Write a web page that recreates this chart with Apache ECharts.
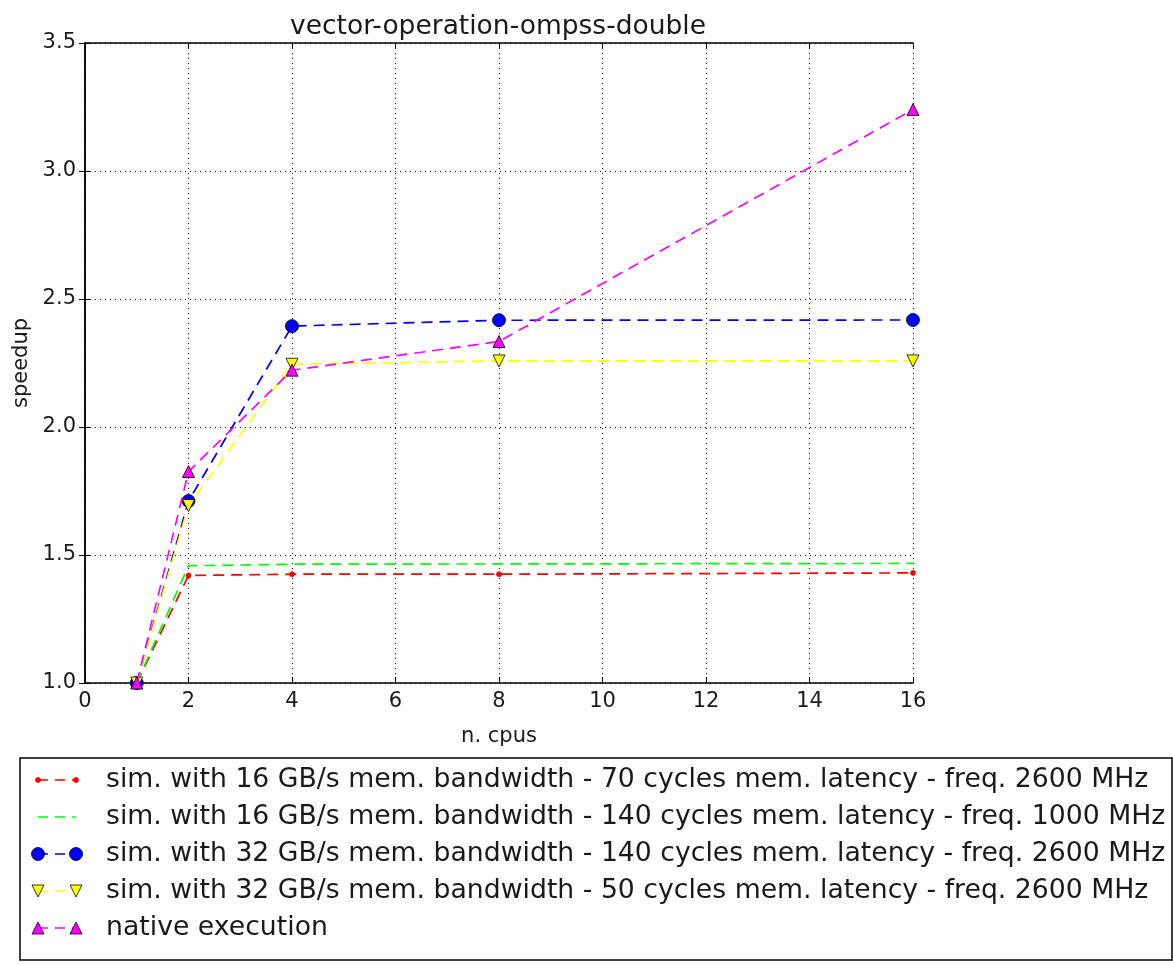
<!DOCTYPE html>
<html>
<head>
<meta charset="utf-8">
<script src="https://cdn.jsdelivr.net/npm/echarts@6/dist/echarts.min.js"></script>
<style>
  html, body { margin: 0; padding: 0; background: #fff; }
  #chart { width: 1173px; height: 965px; }
</style>
</head>
<body>
<div id="chart"></div>
<script>
// Speedup measurements per number of CPUs
const cpus = [1, 2, 4, 8, 16];
const seriesNames = [
  'sim. with 16 GB/s mem. bandwidth - 70 cycles mem. latency - freq. 2600 MHz',
  'sim. with 16 GB/s mem. bandwidth - 140 cycles mem. latency - freq. 1000 MHz',
  'sim. with 32 GB/s mem. bandwidth - 140 cycles mem. latency - freq. 2600 MHz',
  'sim. with 32 GB/s mem. bandwidth - 50 cycles mem. latency - freq. 2600 MHz',
  'native execution'
];
const sim16bw70lat = [1.0, 1.42, 1.425, 1.425, 1.43];
const sim16bw140lat = [1.0, 1.458, 1.464, 1.465, 1.467];
const sim32bw140lat = [1.0, 1.711, 2.394, 2.417, 2.418];
const sim32bw50lat = [1.0, 1.693, 2.245, 2.258, 2.258];
const nativeExec = [1.0, 1.826, 2.222, 2.334, 3.24];
const xTicks = [0, 2, 4, 6, 8, 10, 12, 14, 16];
const yTicks = [1.0, 1.5, 2.0, 2.5, 3.0, 3.5];

const FONT = 'DejaVu Sans';
const styles = [
  { color: '#ff0000', symbol: 'circle', size: 5, rotate: 0, border: '#ff0000' },
  { color: '#00ff00', symbol: 'none', size: 0, rotate: 0, border: '#00ff00' },
  { color: '#0000ff', symbol: 'circle', size: 13, rotate: 0, border: '#000' },
  { color: '#ffff00', symbol: 'triangle', size: 12, rotate: 180, border: '#000' },
  { color: '#ff00ff', symbol: 'triangle', size: 12, rotate: 0, border: '#000' }
];
const values = [sim16bw70lat, sim16bw140lat, sim32bw140lat, sim32bw50lat, nativeExec];

const series = values.map((vals, i) => ({
  name: seriesNames[i],
  type: 'line',
  data: cpus.map((c, k) => [c, vals[k]]),
  symbol: styles[i].symbol,
  symbolSize: styles[i].size,
  symbolRotate: styles[i].rotate,
  showSymbol: styles[i].symbol !== 'none',
  clip: false,
  lineStyle: { color: styles[i].color, width: 1.7, type: [11, 7] },
  itemStyle: { color: styles[i].color, borderColor: styles[i].border, borderWidth: 0.8 },
  z: 3 + i,
  animation: false
}));

// Legend drawn as a framed box with two markers joined by a dashed line per entry
const legendGraphics = [{
  type: 'rect',
  shape: { x: 20, y: 758, width: 1152, height: 202 },
  style: { fill: '#fff', stroke: '#000', lineWidth: 1.5 }
}];
const rowY0 = 780, rowStep = 37;
function markerGraphic(st, cx, cy) {
  if (st.symbol === 'circle') {
    return { type: 'circle', shape: { cx, cy, r: st.size / 2 },
      style: { fill: st.color, stroke: st.border, lineWidth: 0.8 } };
  }
  if (st.symbol === 'triangle') {
    const h = st.size, w = st.size;
    const pts = st.rotate === 180
      ? [[cx - w / 2, cy - h / 2], [cx + w / 2, cy - h / 2], [cx, cy + h / 2]]
      : [[cx - w / 2, cy + h / 2], [cx + w / 2, cy + h / 2], [cx, cy - h / 2]];
    return { type: 'polygon', shape: { points: pts },
      style: { fill: st.color, stroke: st.border, lineWidth: 0.8 } };
  }
  return null;
}
seriesNames.forEach((name, i) => {
  const y = rowY0 + i * rowStep;
  const st = styles[i];
  legendGraphics.push({
    type: 'line', shape: { x1: 38, y1: y, x2: 76, y2: y },
    style: { stroke: st.color, lineWidth: 1.7, lineDash: [10, 7] }
  });
  [38, 76].forEach(cx => {
    const m = markerGraphic(st, cx, y);
    if (m) legendGraphics.push(m);
  });
  legendGraphics.push({
    type: 'text', x: 106, y: y,
    style: { text: name, fill: '#1a1a1a', font: '26.7px ' + FONT, textVerticalAlign: 'middle' }
  });
});

const axisCommon = {
  axisLine: { show: true, lineStyle: { color: '#000', width: 1.5 } },
  axisTick: { show: true, inside: true, length: 6, lineStyle: { color: '#000' } },
  splitLine: { show: false }
};

const chart = echarts.init(document.getElementById('chart'), null, { renderer: 'canvas' });
chart.setOption({
  animation: false,
  backgroundColor: '#fff',
  textStyle: { fontFamily: FONT },
  title: {
    text: 'vector-operation-ompss-double',
    left: 493, top: 9, textAlign: 'center',
    textStyle: { fontFamily: FONT, fontSize: 26.5, fontWeight: 'normal', color: '#1a1a1a' }
  },
  grid: { left: 85, top: 43, width: 828, height: 640, containLabel: false, outerBoundsMode: 'none' },
  xAxis: [{
    type: 'value', min: 0, max: 16, interval: 2, position: 'bottom',
    name: 'n. cpus', nameLocation: 'middle', nameGap: 43,
    nameTextStyle: { fontFamily: FONT, fontSize: 21, color: '#1a1a1a' },
    ...axisCommon,
    axisLabel: { color: '#1a1a1a', fontSize: 21, fontFamily: FONT, margin: 8,
      formatter: v => xTicks.includes(v) ? String(v) : '' },
    splitLine: { show: true, lineStyle: { color: '#000', width: 1, type: [1, 4] } }
  }, {
    type: 'value', min: 0, max: 16, interval: 2, position: 'top',
    ...axisCommon, axisLabel: { show: false }
  }],
  yAxis: [{
    type: 'value', min: 1.0, max: 3.5, interval: 0.5, position: 'left',
    name: 'speedup', nameLocation: 'middle', nameGap: 53, nameRotate: 90,
    nameTextStyle: { fontFamily: FONT, fontSize: 21, color: '#1a1a1a' },
    ...axisCommon,
    axisLabel: { color: '#1a1a1a', fontSize: 21, fontFamily: FONT, margin: 9,
      formatter: v => yTicks.some(t => Math.abs(t - v) < 1e-9) ? v.toFixed(1) : '' },
    splitLine: { show: true, lineStyle: { color: '#000', width: 1, type: [1, 4] } }
  }, {
    type: 'value', min: 1.0, max: 3.5, interval: 0.5, position: 'right',
    ...axisCommon, axisLabel: { show: false }
  }],
  series: series,
  graphic: legendGraphics
});
</script>
</body>
</html>
